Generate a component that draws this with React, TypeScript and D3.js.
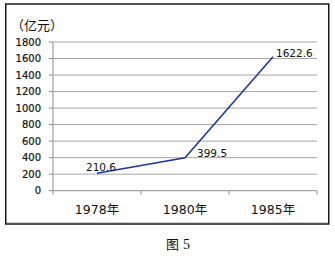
import React from "react";
import * as d3 from "d3";

const categories = ["1978年", "1980年", "1985年"];
const values = [210.6, 399.5, 1622.6];
const valueLabels = ["210.6", "399.5", "1622.6"];
const yTicks = [0, 200, 400, 600, 800, 1000, 1200, 1400, 1600, 1800];
const unitLabel = "（亿元）";
const caption = "图";
const captionNum = "5";

export default function App() {
  const W = 335, H = 257;
  const x0 = 53, x1 = 317;
  const y = d3.scaleLinear().domain([0, 1800]).range([190.7, 42]);
  const xb = d3.scaleBand().domain(categories).range([x0, x1]).padding(0);
  const cx = (c: string) => (xb(c) as number) + xb.bandwidth() / 2;
  const line = d3
    .line<number>()
    .x((_, i) => cx(categories[i]))
    .y((d) => y(d));
  const font = "'DejaVu Sans', Verdana, sans-serif";
  const cjk = "'DejaVu Sans', 'Noto Sans CJK SC', sans-serif";
  const labelOffsets = [
    { dx: 4, dy: -2, anchor: "middle" },
    { dx: 12, dy: -1, anchor: "start" },
    { dx: 3, dy: 0.5, anchor: "start" },
  ];
  return (
    <svg
      width={W}
      height={H}
      style={{ position: "absolute", left: 0, top: 0, background: "#fff" }}
    >
      <rect x={0} y={0} width={W} height={H} fill="#fff" />
      <rect x={5.75} y={4} width={323} height={220} fill="#fff" stroke="#1a1a1a" strokeWidth={1.5} />
      <line x1={7} x2={328} y1={222.5} y2={222.5} stroke="#ccc" strokeWidth={1} />
      <text x={11} y={30} fontFamily={cjk} fontSize={13} fill="#111">
        {unitLabel}
      </text>
      {yTicks.map((t) => (
        <g key={t}>
          {t > 0 && (
            <line x1={x0} x2={x1} y1={y(t)} y2={y(t)} stroke="#a6a6a6" strokeWidth={1} />
          )}
          <line x1={x0 - 4} x2={x0} y1={y(t)} y2={y(t)} stroke="#8c8c8c" strokeWidth={1} />
          <text
            x={41}
            y={y(t)}
            dy="0.36em"
            textAnchor="end"
            fontFamily={font}
            fontSize={10}
            fill="#111"
            stroke="#111"
            strokeWidth={0.2}
          >
            {t}
          </text>
        </g>
      ))}
      <line x1={x0} x2={x0} y1={y(1800)} y2={y(0)} stroke="#8c8c8c" strokeWidth={1} />
      <line x1={x0} x2={x1} y1={y(0)} y2={y(0)} stroke="#8c8c8c" strokeWidth={1} />
      {[0, 1, 2, 3].map((i) => {
        const xx = x0 + i * xb.bandwidth();
        return (
          <line key={i} x1={xx} x2={xx} y1={y(0)} y2={y(0) + 4} stroke="#8c8c8c" strokeWidth={1} />
        );
      })}
      {categories.map((c) => (
        <text
          key={c}
          x={cx(c)}
          y={209}
          dy="0.36em"
          textAnchor="middle"
          fontFamily={cjk}
          fontSize={12.5}
          fill="#111"
        >
          {c}
        </text>
      ))}
      <path d={line(values) || ""} fill="none" stroke="#1f3a93" strokeWidth={1.6} />
      {values.map((v, i) => (
        <text
          key={i}
          x={cx(categories[i]) + labelOffsets[i].dx}
          y={y(v) + labelOffsets[i].dy}
          textAnchor={labelOffsets[i].anchor as any}
          fontFamily={font}
          fontSize={10.5}
          fill="#111"
        >
          {valueLabels[i]}
        </text>
      ))}
      <text x={166} y={249} fontFamily="'Noto Sans CJK SC', sans-serif" fontSize={13} fill="#111">
        {caption}
      </text>
      <text x={183} y={249} fontFamily="'Liberation Serif', serif" fontSize={14} fill="#111">
        {captionNum}
      </text>
    </svg>
  );
}
